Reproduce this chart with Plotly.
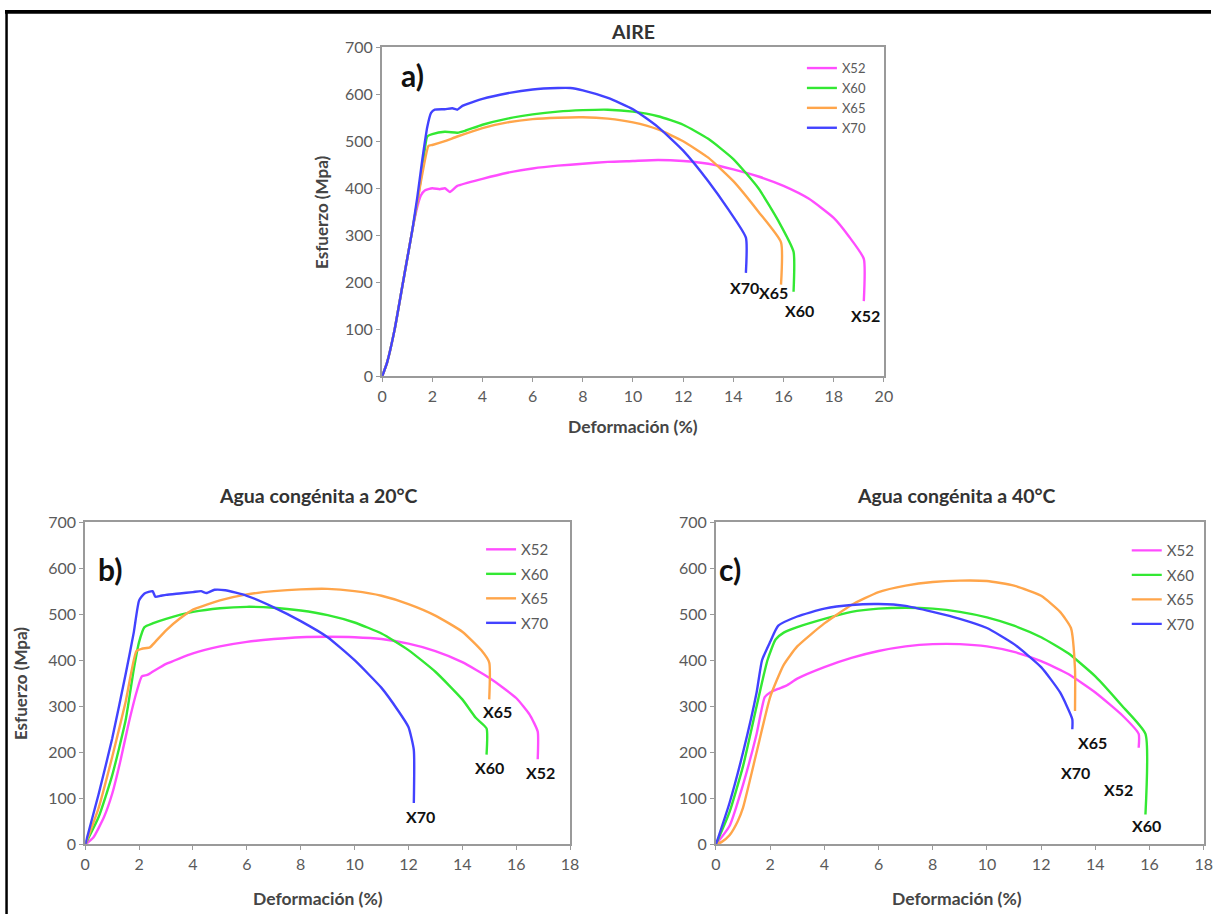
import plotly.graph_objects as go

# ---------------- a) AIRE ----------------
a_x52_x = [0, 0.2, 0.5, 0.8, 1.0, 1.2, 1.4, 1.55, 1.7, 2.0, 2.3, 2.5, 2.7, 3.0, 4, 5, 6, 7, 8, 9, 10, 11, 12, 13, 14, 15, 16, 17, 18, 18.6, 19.2, 19.2]
a_x52_y = [0, 30, 100, 190, 250, 310, 360, 385, 395, 400, 398, 400, 392, 405, 420, 433, 442, 448, 452, 456, 458, 460, 458, 452, 440, 425, 405, 378, 337, 298, 250, 160]

a_x60_x = [0, 0.2, 0.5, 0.8, 1.0, 1.2, 1.4, 1.6, 1.8, 2.0, 2.5, 3.0, 3.3, 4, 5, 6, 7, 8, 9, 10, 11, 12, 13, 14, 15, 15.8, 16.4, 16.4]
a_x60_y = [0, 30, 100, 190, 250, 310, 370, 440, 510, 515, 520, 518, 522, 535, 548, 557, 563, 566, 567, 563, 553, 535, 505, 462, 400, 330, 265, 180]

a_x65_x = [0, 0.2, 0.5, 0.8, 1.0, 1.2, 1.4, 1.6, 1.85, 2.0, 2.5, 3, 4, 5, 6, 7, 8, 9, 10, 11, 12, 13, 14, 15, 15.9, 15.9]
a_x65_y = [0, 30, 100, 190, 250, 310, 370, 430, 490, 492, 500, 510, 528, 540, 547, 550, 551, 548, 540, 525, 500, 465, 415, 350, 285, 195]

a_x70_x = [0, 0.2, 0.5, 0.8, 1.0, 1.2, 1.4, 1.6, 1.8, 1.95, 2.1, 2.5, 2.8, 3.0, 3.2, 4, 5, 6, 7, 7.5, 8, 9, 10, 11, 12, 13, 13.8, 14.5, 14.5]
a_x70_y = [0, 30, 100, 190, 250, 310, 380, 460, 530, 560, 567, 568, 570, 567, 575, 590, 602, 610, 613, 613, 608, 592, 568, 530, 480, 415, 355, 295, 220]

# ---------------- b) Agua congénita a 20°C ----------------
b_x52_x = [0, 0.3, 0.7, 1.0, 1.3, 1.6, 1.9, 2.1, 2.3, 2.5, 3, 4, 5, 6, 7, 8, 9, 10, 11, 12, 13, 14, 15, 16, 16.5, 16.8, 16.8]
b_x52_y = [0, 15, 60, 110, 180, 260, 330, 365, 368, 375, 392, 415, 430, 440, 446, 450, 451, 450, 446, 436, 420, 396, 362, 318, 282, 245, 185]

b_x60_x = [0, 0.5, 1, 1.5, 1.8, 2.0, 2.2, 2.5, 3, 4, 5, 6, 7, 8, 9, 10, 11, 12, 13, 14, 14.5, 14.9, 14.9]
b_x60_y = [0, 60, 150, 270, 380, 440, 472, 480, 490, 505, 513, 516, 514, 508, 498, 482, 458, 422, 375, 315, 275, 252, 195]

b_x65_x = [0, 0.5, 1, 1.5, 1.9, 2.1, 2.4, 2.6, 3, 3.5, 4, 5, 6, 7, 8, 9, 10, 11, 12, 13, 14, 14.7, 15.0, 15.0]
b_x65_y = [0, 80, 190, 310, 420, 425, 428, 440, 465, 490, 510, 530, 543, 550, 554, 555, 550, 540, 522, 497, 462, 422, 395, 315]

b_x70_x = [0, 0.5, 1, 1.5, 1.8, 2.0, 2.2, 2.5, 2.6, 2.8, 3, 3.5, 4, 4.3, 4.5, 4.8, 5.2, 6, 7, 8, 9, 10, 11, 11.6, 12.0, 12.2, 12.2]
b_x70_y = [0, 110, 230, 370, 460, 530, 545, 550, 538, 540, 542, 545, 548, 550, 546, 553, 552, 540, 515, 485, 450, 400, 340, 292, 255, 205, 90]

# ---------------- c) Agua congénita a 40°C ----------------
c_x52_x = [0, 0.5, 1, 1.5, 1.8, 2.0, 2.3, 2.6, 3, 4, 5, 6, 7, 8, 9, 10, 11, 12, 13, 14, 15, 15.6, 15.6]
c_x52_y = [0, 40, 130, 240, 320, 330, 338, 345, 360, 385, 405, 420, 430, 435, 435, 430, 418, 398, 370, 330, 280, 240, 210]

c_x60_x = [0, 0.5, 1, 1.5, 1.9, 2.2, 2.5, 3, 4, 5, 6, 7, 8, 9, 10, 11, 12, 13, 14, 15, 15.85, 15.85]
c_x60_y = [0, 70, 170, 300, 400, 445, 460, 472, 490, 505, 512, 514, 512, 505, 493, 475, 450, 415, 365, 300, 240, 65]

c_x65_x = [0, 0.2, 0.5, 0.8, 1.0, 1.5, 2, 2.5, 3, 4, 5, 6, 7, 8, 9, 10, 11, 12, 12.7, 13.1, 13.25, 13.25]
c_x65_y = [0, 5, 20, 50, 80, 200, 320, 390, 430, 480, 520, 548, 562, 570, 573, 572, 562, 540, 505, 470, 380, 290]

c_x70_x = [0, 0.5, 1, 1.5, 1.7, 2.0, 2.3, 3, 4, 5, 6, 7, 8, 9, 10, 11, 12, 12.7, 13.15, 13.15]
c_x70_y = [0, 90, 200, 330, 400, 440, 475, 495, 512, 520, 522, 518, 505, 490, 470, 435, 385, 330, 272, 250]

grades = ["X52", "X60", "X65", "X70"]
colors = {"X52": "#FF4DFF", "X60": "#33E833", "X65": "#FFA54A", "X70": "#4242FF"}

panels = [
    ("x", "y", "legend", {"X52": (a_x52_x, a_x52_y), "X60": (a_x60_x, a_x60_y),
                          "X65": (a_x65_x, a_x65_y), "X70": (a_x70_x, a_x70_y)}),
    ("x2", "y2", "legend2", {"X52": (b_x52_x, b_x52_y), "X60": (b_x60_x, b_x60_y),
                             "X65": (b_x65_x, b_x65_y), "X70": (b_x70_x, b_x70_y)}),
    ("x3", "y3", "legend3", {"X52": (c_x52_x, c_x52_y), "X60": (c_x60_x, c_x60_y),
                             "X65": (c_x65_x, c_x65_y), "X70": (c_x70_x, c_x70_y)}),
]

fig = go.Figure()
for xa, ya, lg, series in panels:
    for g in grades:
        xs, ys = series[g]
        fig.add_trace(go.Scatter(
            x=xs, y=ys, mode="lines", name=g, xaxis=xa, yaxis=ya, legend=lg,
            legendgroup=lg + g,
            line=dict(color=colors[g], width=2.4, shape="spline", smoothing=0.5),
        ))

W, H = 1220, 923
# placement helpers: positions are given in displayed pixels
SX, OX = 0.989, 4.7
SY, OY = 0.9815, 8.8
FONT = "Lato, Open Sans, sans-serif"
TICK_FONT = dict(family=FONT, size=16, color="#5A5A5A")
AXIS_LINE = "#9A9A9A"


def px(x):
    return ((x - OX) / SX) / W


def py(y):
    return 1 - ((y - OY) / SY) / H


def xaxis_style(dom, rng):
    return dict(domain=dom, range=rng, tickmode="linear", tick0=0, dtick=2,
                showgrid=False, zeroline=False, showline=True, linecolor=AXIS_LINE,
                linewidth=2, mirror=True, ticks="outside", ticklen=4,
                tickcolor=AXIS_LINE, tickfont=TICK_FONT, fixedrange=True)


def yaxis_style(dom, anchor):
    return dict(domain=dom, range=[0, 700], tickmode="linear", tick0=0, dtick=100,
                showgrid=False, zeroline=False, showline=True, linecolor=AXIS_LINE,
                linewidth=2, mirror=True, ticks="outside", ticklen=4,
                tickcolor=AXIS_LINE, tickfont=TICK_FONT, anchor=anchor, fixedrange=True)


def leg(x, y, size, gap):
    return dict(font=dict(family=FONT, size=size, color="#5A5A5A"),
                bgcolor="rgba(0,0,0,0)", itemwidth=30, xanchor="left", yanchor="top",
                x=px(x), y=py(y), tracegroupgap=gap)


fig.update_layout(
    width=W, height=H, margin=dict(l=0, r=0, t=0, b=0),
    paper_bgcolor="white", plot_bgcolor="white",
    xaxis=xaxis_style([px(382), px(884)], [0, 20]) | dict(anchor="y"),
    yaxis=yaxis_style([py(376), py(46)], "x"),
    xaxis2=xaxis_style([px(85), px(570)], [0, 18]) | dict(anchor="y2"),
    yaxis2=yaxis_style([py(845), py(522)], "x2"),
    xaxis3=xaxis_style([px(716), px(1204)], [0, 18]) | dict(anchor="y3"),
    yaxis3=yaxis_style([py(845), py(522)], "x3"),
    legend=leg(802, 52, 13, 0),
    legend2=leg(481, 533, 15, 2),
    legend3=leg(1127, 534, 15, 2),
    showlegend=True,
)


def label(text, x, y, size, color, angle=0):
    return dict(text=text, x=px(x), y=py(y), xref="paper", yref="paper",
                xanchor="center", yanchor="middle", showarrow=False, textangle=angle,
                font=dict(family=FONT, size=size, color=color))


ann = []
# panel titles
for txt, x, y in [("AIRE", 633, 30), ("Agua congénita a 20°C", 318, 495),
                  ("Agua congénita a 40°C", 957, 495)]:
    ann.append(label(f"<b>{txt}</b>", x, y, 19.5, "#333333"))
# axis titles
for x, y in [(633, 426), (318, 899), (957, 899)]:
    ann.append(label("<b>Deformación (%)</b>", x, y, 17.5, "#454545"))
for x, y in [(322, 212), (20, 684)]:
    ann.append(label("<b>Esfuerzo (Mpa)</b>", x, y, 17, "#454545", -90))
# panel letters
for txt, x, y in [("a)", 412, 74), ("b)", 110, 569), ("c)", 730, 569)]:
    ann.append(label(f"<b>{txt}</b>", x, y, 30, "#111111"))
# fracture labels
end_labels = [
    ("x", "y", "X70", 14.46, 189), ("x", "y", "X65", 15.6, 178),
    ("x", "y", "X60", 16.65, 140), ("x", "y", "X52", 19.25, 129),
    ("x2", "y2", "X65", 15.3, 288), ("x2", "y2", "X60", 15.0, 167),
    ("x2", "y2", "X52", 16.9, 156), ("x2", "y2", "X70", 12.45, 61),
    ("x3", "y3", "X65", 13.9, 221), ("x3", "y3", "X70", 13.25, 156),
    ("x3", "y3", "X52", 14.85, 119), ("x3", "y3", "X60", 15.9, 41),
]
for xr, yr, txt, x, y in end_labels:
    ann.append(dict(text=f"<b>{txt}</b>", x=x, y=y, xref=xr, yref=yr, showarrow=False,
                    xanchor="center", yanchor="middle",
                    font=dict(family=FONT, size=16, color="#111111")))
fig.update_layout(annotations=ann)

# outer frame: top bar and left rule
fig.add_shape(type="rect", xref="paper", yref="paper", x0=0, x1=1, y0=py(12.5), y1=1,
              fillcolor="black", line_width=0, layer="above")
fig.add_shape(type="rect", xref="paper", yref="paper", x0=px(5), x1=px(7.5), y0=0, y1=1,
              fillcolor="black", line_width=0, layer="above")

fig.write_html("out.html")
